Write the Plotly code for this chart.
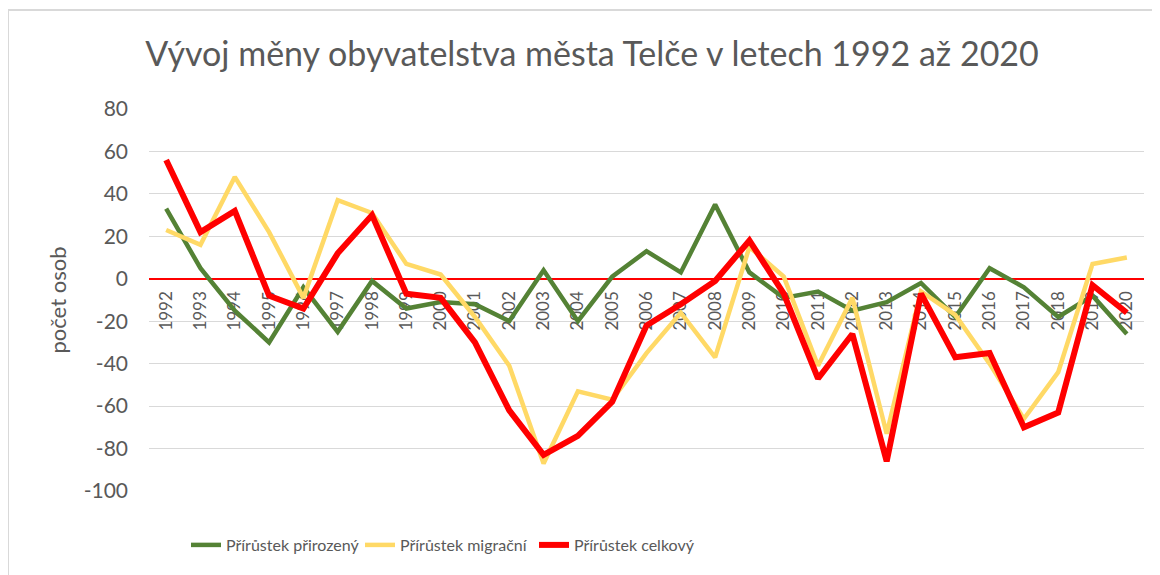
import plotly.graph_objects as go

years = [str(y) for y in range(1992, 2021)]
prirozeny = [33, 5, -15, -30, -4, -25, -1, -14, -11, -12, -20, 4, -20, 1, 13, 3, 35, 3, -9, -6, -15, -11, -2, -18, 5, -4, -18, -8, -26]
migracni = [23, 16, 48, 22, -9, 37, 31, 7, 2, -18, -41, -87, -53, -57, -35, -16, -37, 15, 1, -41, -9, -73, -6, -17, -40, -66, -44, 7, 10]
celkovy = [56, 22, 32, -8, -14, 12, 30, -7, -9, -30, -62, -83, -74, -58, -22, -12, -1, 18, -7, -47, -26, -86, -7, -37, -35, -70, -63, -3, -16]

series_names = ["Přírůstek přirozený", "Přírůstek migrační", "Přírůstek celkový"]
y_ticks = list(range(-100, 81, 20))
y_ticktext = [str(v) for v in y_ticks]

FONT = "Lato"
GRAY = "#595959"

fig = go.Figure()
fig.add_trace(go.Scatter(x=years, y=prirozeny, name=series_names[0], mode="lines",
                         line=dict(color="#548235", width=4.5)))
fig.add_trace(go.Scatter(x=years, y=migracni, name=series_names[1], mode="lines",
                         line=dict(color="#FFD966", width=4.5)))
fig.add_trace(go.Scatter(x=years, y=celkovy, name=series_names[2], mode="lines",
                         line=dict(color="#FF0000", width=6)))

# page has an 8px body margin; positions below are in window pixels
OFF = 8
W, H = 1160 - OFF, 575 - OFF
L, T = 149 - OFF, 109 - OFF
R = (W + OFF) - 1144
B = (H + OFF) - 491
pw = W - L - R
ph = H - T - B

def px_x(x):
    return (x - OFF - L) / pw

def px_y(y):
    return (H - B - (y - OFF)) / ph

fig.update_layout(
    width=W, height=H,
    margin=dict(l=L, r=R, t=T, b=B, autoexpand=False),
    paper_bgcolor="white", plot_bgcolor="white",
    font=dict(family=FONT, color=GRAY),
    title=dict(text="Vývoj měny obyvatelstva města Telče v letech 1992 až 2020",
               font=dict(family=FONT, size=34, color=GRAY),
               x=(592 - OFF) / W, xanchor="center", xref="container",
               y=1 - (54 - OFF) / H, yanchor="middle", yref="container"),
    xaxis=dict(type="category", anchor="free", position=100 / 180,
               showgrid=False, showline=False, zeroline=False, automargin=False,
               tickangle=-90, ticks="", ticklabelstandoff=8,
               tickfont=dict(family=FONT, size=17, color=GRAY),
               layer="below traces", range=[-0.5, len(years) - 0.5]),
    yaxis=dict(range=[-100, 80], tickvals=y_ticks, ticktext=y_ticktext,
               showgrid=True, gridcolor="#D9D9D9", gridwidth=1.3,
               zeroline=True, zerolinecolor="#FF0000", zerolinewidth=1.6,
               showline=False, ticks="", ticklabelstandoff=20, automargin=False,
               tickfont=dict(family=FONT, size=21, color=GRAY),
               title=dict(text="počet osob", standoff=10,
                          font=dict(family=FONT, size=22, color=GRAY))),
    legend=dict(orientation="h", x=px_x(186), xanchor="left",
                y=px_y(545), yanchor="middle",
                font=dict(family=FONT, size=16, color=GRAY),
                entrywidth=129, bgcolor="rgba(0,0,0,0)"),
    showlegend=True,
)

fig.add_shape(type="rect", xref="paper", yref="paper",
              x0=px_x(8), x1=px_x(1175), y0=px_y(590), y1=px_y(10),
              line=dict(color="#D9D9D9", width=2), fillcolor="rgba(0,0,0,0)",
              layer="below")

fig.write_html("out.html")
